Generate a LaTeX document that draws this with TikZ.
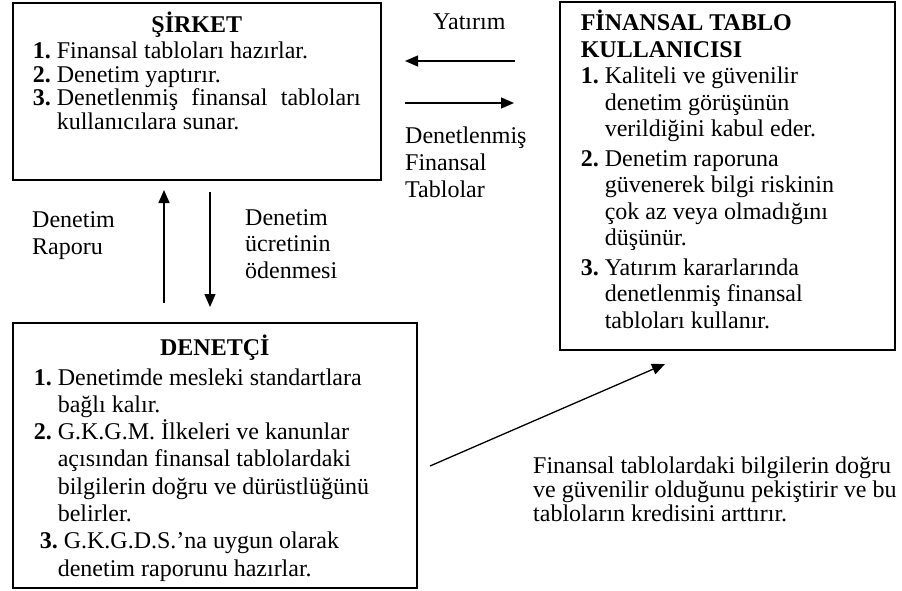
\documentclass[tikz,border=0pt]{standalone}
\usepackage{fontspec}
\setmainfont{Liberation Serif}
\usetikzlibrary{arrows.meta}
\tikzstyle{infobox} = [draw=black, line width=1.6pt, rectangle, anchor=north west, inner xsep=21pt, inner ysep=8pt]
\tikzstyle{flowarrow} = [line width=1.3pt, -{Triangle[length=13pt,width=11pt]}]
\tikzstyle{lbl} = [align=left, anchor=north west, inner sep=0pt, font=\fontsize{24}{27}\selectfont]
\newcommand{\itemnr}[1]{\makebox[24pt][l]{\textbf{#1.}}}
\newcommand{\itemgap}{\hspace*{24pt}}

\begin{document}
\begin{tikzpicture}[x=1pt,y=1pt]
\useasboundingbox (0,0) rectangle (902,-591);

% kutular
\node [infobox, inner xsep=20pt] (sirket) at (12,-2) {%
    \begin{minipage}[t][161pt]{328pt}
    \fontsize{24}{23.5}\selectfont\raggedright
    {\centering\rule{0pt}{22pt}\textbf{ŞİRKET}\par}
    \vspace{2.7pt}
    \itemnr{1}Finansal tabloları hazırlar.\\
    \itemnr{2}Denetim yaptırır.\\
    \itemnr{3}Denetlenmiş\hfill finansal\hfill tabloları\\
    \itemgap kullanıcılara sunar.
    \end{minipage}
};
\node [infobox] (kullanici) at (559,-1) {%
    \begin{minipage}[t][332pt]{293pt}
    \fontsize{24}{26.5}\selectfont\raggedright
    \rule{0pt}{21.2pt}\textbf{FİNANSAL TABLO}\\
    \textbf{KULLANICISI}\\
    \itemnr{1}Kaliteli ve güvenilir\\
    \itemgap denetim görüşünün\\
    \itemgap verildiğini kabul eder.\par
    \vspace{3pt}
    \itemnr{2}Denetim raporuna\\
    \itemgap güvenerek bilgi riskinin\\
    \itemgap çok az veya olmadığını\\
    \itemgap düşünür.\par
    \vspace{3pt}
    \itemnr{3}Yatırım kararlarında\\
    \itemgap denetlenmiş finansal\\
    \itemgap tabloları kullanır.
    \end{minipage}
};
\node [infobox] (denetci) at (12,-322) {%
    \begin{minipage}[t][249pt]{362pt}
    \fontsize{24}{27.3}\selectfont\raggedright
    {\centering\rule{0pt}{24.2pt}\textbf{DENETÇİ}\par}
    \vspace{2.7pt}
    \itemnr{1}Denetimde mesleki standartlara\\
    \itemgap bağlı kalır.\\
    \itemnr{2}G.K.G.M. İlkeleri ve kanunlar\\
    \itemgap açısından finansal tablolardaki\\
    \itemgap bilgilerin doğru ve dürüstlüğünü\\
    \itemgap belirler.\\
    \hspace*{6pt}\itemnr{3}G.K.G.D.S.’na uygun olarak\\
    \itemgap denetim raporunu hazırlar.
    \end{minipage}
};

% oklar
\coordinate (yat-s) at (515,-61);
\coordinate (yat-e) at (405,-61);
\coordinate (tab-s) at (405,-103);
\coordinate (tab-e) at (514,-103);
\coordinate (rap-s) at (164,-303);
\coordinate (rap-e) at (164,-190);
\coordinate (ucr-s) at (210,-192);
\coordinate (ucr-e) at (210,-307);
\coordinate (kre-s) at (430,-466);
\coordinate (kre-e) at (665,-364);
\draw [flowarrow] (yat-s) -- (yat-e);
\draw [flowarrow] (tab-s) -- (tab-e);
\draw [flowarrow] (rap-s) -- (rap-e);
\draw [flowarrow] (ucr-s) -- (ucr-e);
\draw [flowarrow] (kre-s) -- (kre-e);

% etiketler
\node [lbl] (yatirim) at (433,-14) {Yatırım};
\node [lbl] (tablolar) at (405,-127) {Denetlenmiş\\Finansal\\Tablolar};
\node [lbl] (rapor) at (32,-211) {Denetim\\Raporu};
\node [lbl, font=\fontsize{24}{26.5}\selectfont] (ucret) at (245,-209) {Denetim\\ücretinin\\ödenmesi};
\node [lbl, font=\fontsize{24}{24}\selectfont] (kredi) at (533,-457) {Finansal tablolardaki bilgilerin doğru\\ve güvenilir olduğunu pekiştirir ve bu\\tabloların kredisini arttırır.};
\end{tikzpicture}
\end{document}
